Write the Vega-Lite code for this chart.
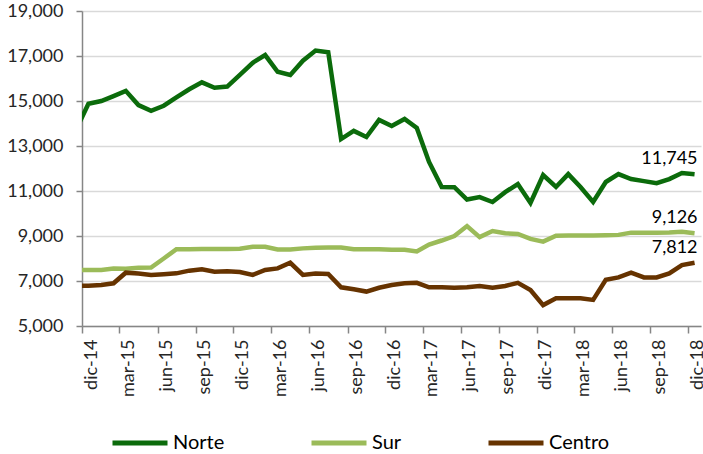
{
  "$schema": "https://vega.github.io/schema/vega-lite/v6.json",
  "width": 619,
  "height": 315,
  "autosize": {"type": "none"},
  "padding": {"left": 82, "top": 11, "right": 2, "bottom": 128},
  "background": "white",
  "config": {"view": {"stroke": null}},
  "title": {"text": "(Pesos/tonelada)", "anchor": "middle", "frame": "group", "fontSize": 21, "fontWeight": "bold", "font": "Lato", "color": "#000000", "baseline": "alphabetic", "offset": -12, "dx": -8},
  "data": {"values": [
    {"fecha": "2014-11-01", "Norte": 13700, "Sur": 7490, "Centro": 6780},
    {"fecha": "2014-12-01", "Norte": 14880, "Sur": 7490, "Centro": 6790},
    {"fecha": "2015-01-01", "Norte": 15000, "Sur": 7490, "Centro": 6820},
    {"fecha": "2015-02-01", "Norte": 15220, "Sur": 7560, "Centro": 6900},
    {"fecha": "2015-03-01", "Norte": 15450, "Sur": 7540, "Centro": 7370},
    {"fecha": "2015-04-01", "Norte": 14820, "Sur": 7590, "Centro": 7330},
    {"fecha": "2015-05-01", "Norte": 14560, "Sur": 7600, "Centro": 7270},
    {"fecha": "2015-06-01", "Norte": 14790, "Sur": 8000, "Centro": 7300},
    {"fecha": "2015-07-01", "Norte": 15160, "Sur": 8410, "Centro": 7340},
    {"fecha": "2015-08-01", "Norte": 15520, "Sur": 8410, "Centro": 7460},
    {"fecha": "2015-09-01", "Norte": 15830, "Sur": 8420, "Centro": 7520},
    {"fecha": "2015-10-01", "Norte": 15590, "Sur": 8420, "Centro": 7410},
    {"fecha": "2015-11-01", "Norte": 15640, "Sur": 8420, "Centro": 7430},
    {"fecha": "2015-12-01", "Norte": 16160, "Sur": 8430, "Centro": 7400},
    {"fecha": "2016-01-01", "Norte": 16700, "Sur": 8520, "Centro": 7270},
    {"fecha": "2016-02-01", "Norte": 17040, "Sur": 8520, "Centro": 7490},
    {"fecha": "2016-03-01", "Norte": 16300, "Sur": 8400, "Centro": 7560},
    {"fecha": "2016-04-01", "Norte": 16160, "Sur": 8400, "Centro": 7810},
    {"fecha": "2016-05-01", "Norte": 16790, "Sur": 8450, "Centro": 7270},
    {"fecha": "2016-06-01", "Norte": 17240, "Sur": 8480, "Centro": 7330},
    {"fecha": "2016-07-01", "Norte": 17170, "Sur": 8490, "Centro": 7310},
    {"fecha": "2016-08-01", "Norte": 13310, "Sur": 8490, "Centro": 6720},
    {"fecha": "2016-09-01", "Norte": 13670, "Sur": 8410, "Centro": 6630},
    {"fecha": "2016-10-01", "Norte": 13400, "Sur": 8410, "Centro": 6530},
    {"fecha": "2016-11-01", "Norte": 14160, "Sur": 8410, "Centro": 6700},
    {"fecha": "2016-12-01", "Norte": 13890, "Sur": 8390, "Centro": 6820},
    {"fecha": "2017-01-01", "Norte": 14200, "Sur": 8390, "Centro": 6900},
    {"fecha": "2017-02-01", "Norte": 13800, "Sur": 8310, "Centro": 6920},
    {"fecha": "2017-03-01", "Norte": 12290, "Sur": 8620, "Centro": 6720},
    {"fecha": "2017-04-01", "Norte": 11180, "Sur": 8800, "Centro": 6720},
    {"fecha": "2017-05-01", "Norte": 11170, "Sur": 9000, "Centro": 6700},
    {"fecha": "2017-06-01", "Norte": 10620, "Sur": 9440, "Centro": 6720},
    {"fecha": "2017-07-01", "Norte": 10730, "Sur": 8950, "Centro": 6780},
    {"fecha": "2017-08-01", "Norte": 10510, "Sur": 9220, "Centro": 6700},
    {"fecha": "2017-09-01", "Norte": 10950, "Sur": 9120, "Centro": 6780},
    {"fecha": "2017-10-01", "Norte": 11310, "Sur": 9090, "Centro": 6920},
    {"fecha": "2017-11-01", "Norte": 10470, "Sur": 8870, "Centro": 6600},
    {"fecha": "2017-12-01", "Norte": 11710, "Sur": 8750, "Centro": 5930},
    {"fecha": "2018-01-01", "Norte": 11180, "Sur": 9010, "Centro": 6230},
    {"fecha": "2018-02-01", "Norte": 11750, "Sur": 9020, "Centro": 6230},
    {"fecha": "2018-03-01", "Norte": 11180, "Sur": 9020, "Centro": 6230},
    {"fecha": "2018-04-01", "Norte": 10510, "Sur": 9020, "Centro": 6160},
    {"fecha": "2018-05-01", "Norte": 11400, "Sur": 9030, "Centro": 7050},
    {"fecha": "2018-06-01", "Norte": 11750, "Sur": 9050, "Centro": 7160},
    {"fecha": "2018-07-01", "Norte": 11530, "Sur": 9150, "Centro": 7370},
    {"fecha": "2018-08-01", "Norte": 11440, "Sur": 9150, "Centro": 7160},
    {"fecha": "2018-09-01", "Norte": 11350, "Sur": 9150, "Centro": 7160},
    {"fecha": "2018-10-01", "Norte": 11530, "Sur": 9160, "Centro": 7340},
    {"fecha": "2018-11-01", "Norte": 11800, "Sur": 9190, "Centro": 7710},
    {"fecha": "2018-12-01", "Norte": 11745, "Sur": 9126, "Centro": 7812}
  ]},
  "transform": [{"fold": ["Norte", "Sur", "Centro"], "as": ["serie", "valor"]}],
  "encoding": {
    "x": {
      "field": "fecha", "timeUnit": "utcyearmonth", "type": "temporal", "bandPosition": 0.5,
      "scale": {"type": "utc", "domain": [{"year": 2014, "month": 12, "date": 1, "utc": true}, {"year": 2019, "month": 1, "date": 1, "utc": true}]},
      "axis": {
        "values": [
          {"year": 2014, "month": 12, "date": 1, "utc": true},
          {"year": 2015, "month": 3, "date": 1, "utc": true},
          {"year": 2015, "month": 6, "date": 1, "utc": true},
          {"year": 2015, "month": 9, "date": 1, "utc": true},
          {"year": 2015, "month": 12, "date": 1, "utc": true},
          {"year": 2016, "month": 3, "date": 1, "utc": true},
          {"year": 2016, "month": 6, "date": 1, "utc": true},
          {"year": 2016, "month": 9, "date": 1, "utc": true},
          {"year": 2016, "month": 12, "date": 1, "utc": true},
          {"year": 2017, "month": 3, "date": 1, "utc": true},
          {"year": 2017, "month": 6, "date": 1, "utc": true},
          {"year": 2017, "month": 9, "date": 1, "utc": true},
          {"year": 2017, "month": 12, "date": 1, "utc": true},
          {"year": 2018, "month": 3, "date": 1, "utc": true},
          {"year": 2018, "month": 6, "date": 1, "utc": true},
          {"year": 2018, "month": 9, "date": 1, "utc": true},
          {"year": 2018, "month": 12, "date": 1, "utc": true}
        ],
        "labelExpr": "['ene','feb','mar','abr','may','jun','jul','ago','sep','oct','nov','dic'][utcmonth(datum.value)] + '-' + utcFormat(datum.value, '%y')",
        "labelAngle": 270,
        "labelFontSize": 18,
        "labelFont": "Lato",
        "labelColor": "#262626",
        "tickSize": 7,
        "tickColor": "#868686",
        "tickWidth": 1.5,
        "domainColor": "#868686",
        "domainWidth": 1.5,
        "labelPadding": 6,
        "labelOffset": 9,
        "grid": false,
        "title": null,
        "labelOverlap": false,
        "labelFlush": false
      }
    },
    "y": {
      "field": "valor", "type": "quantitative",
      "scale": {"domain": [5000, 19000]},
      "axis": {
        "values": [5000, 7000, 9000, 11000, 13000, 15000, 17000, 19000],
        "format": ",.0f",
        "labelFontSize": 18,
        "labelFont": "Lato",
        "labelColor": "#262626",
        "tickSize": 6,
        "tickColor": "#868686",
        "tickWidth": 1.5,
        "domainColor": "#868686",
        "domainWidth": 1.5,
        "labelPadding": 13,
        "grid": true,
        "gridColor": "#d9d9d9",
        "gridWidth": 1.5,
        "title": null
      }
    }
  },
  "layer": [
    {
      "mark": {"type": "line", "strokeWidth": 4.5, "clip": true},
      "encoding": {
        "color": {
          "field": "serie", "type": "nominal",
          "scale": {"domain": ["Norte", "Sur", "Centro"], "range": ["#0B6B0B", "#9BBB59", "#663300"]},
          "legend": {
            "orient": "none", "legendX": 28, "legendY": 402, "direction": "horizontal", "title": null,
            "symbolType": "stroke", "symbolSize": 3025, "symbolStrokeWidth": 5,
            "labelFontSize": 20, "labelFont": "Lato", "labelColor": "#000000",
            "columnPadding": 76, "labelOffset": 3
          }
        }
      }
    },
    {
      "transform": [{"filter": "utcyear(datum.fecha) == 2018 && utcmonth(datum.fecha) == 11"}],
      "mark": {"type": "text", "align": "right", "baseline": "alphabetic", "dx": 3, "dy": -10, "fontSize": 18, "font": "Lato", "color": "#000000"},
      "encoding": {"text": {"field": "valor", "type": "quantitative", "format": ","}}
    }
  ]
}
